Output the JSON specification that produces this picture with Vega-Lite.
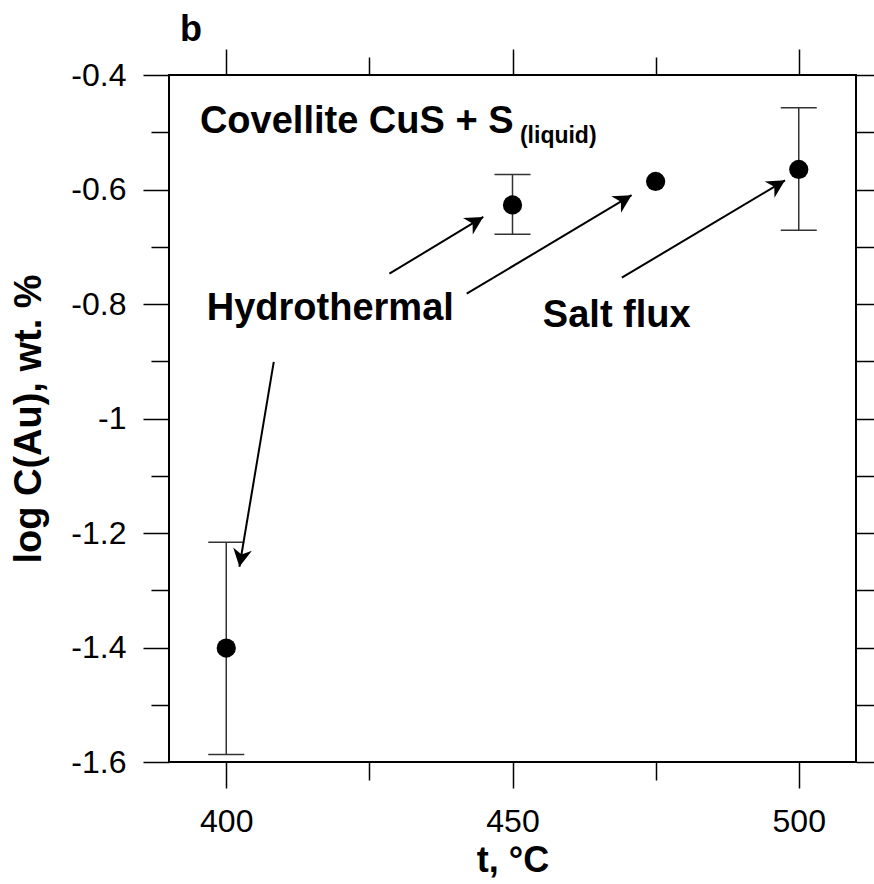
{
  "$schema": "https://vega.github.io/schema/vega-lite/v6.json",
  "width": 687,
  "height": 687,
  "autosize": {"type": "none"},
  "padding": {"left": 169, "top": 75, "right": 18, "bottom": 122},
  "background": "white",
  "title": {"text": "b", "anchor": "start", "frame": "group", "fontSize": 36, "fontWeight": "bold", "font": "Liberation Sans", "color": "black", "baseline": "alphabetic", "offset": -29, "dx": 11},
  "datasets": {
    "pts": [
      {"t": 400, "c": -1.401, "lo": -1.587, "hi": -1.216},
      {"t": 450, "c": -0.627, "lo": -0.678, "hi": -0.574},
      {"t": 475, "c": -0.586, "lo": null, "hi": null},
      {"t": 500, "c": -0.565, "lo": -0.671, "hi": -0.457}
    ],
    "notes": [
      {"label": "Covellite CuS + S", "x": 395.4, "y": -0.501},
      {"label": "Hydrothermal", "x": 396.6, "y": -0.828},
      {"label": "Salt flux", "x": 455.3, "y": -0.84}
    ],
    "sub": [
      {"label": "(liquid)", "x": 451.3, "y": -0.519}
    ],
    "arrows": [
      {"id": "a1", "x": 428.5, "y": -0.747, "x2": 444.9, "y2": -0.648},
      {"id": "a2", "x": 442.0, "y": -0.782, "x2": 470.8, "y2": -0.61},
      {"id": "a3", "x": 469.1, "y": -0.754, "x2": 497.6, "y2": -0.584},
      {"id": "a4", "x": 408.3, "y": -0.901, "x2": 402.3, "y2": -1.259}
    ]
  },
  "resolve": {"axis": {"x": "independent", "y": "independent"}},
  "layer": [
    {
      "data": {"name": "pts"},
      "transform": [{"filter": {"field": "lo", "valid": true}}],
      "mark": {"type": "rule", "color": "#333333", "strokeWidth": 1.5},
      "encoding": {
        "x": {"field": "t", "type": "quantitative", "scale": {"domain": [390, 510], "nice": false, "zero": false},
          "axis": {"orient": "bottom", "values": [400, 450, 500], "tickSize": 26, "labelPadding": 18, "title": "t, °C", "titleFontSize": 36, "titlePadding": 6}},
        "y": {"field": "lo", "type": "quantitative", "scale": {"domain": [-1.6, -0.4], "nice": false, "zero": false},
          "axis": {"orient": "left", "values": [-1.6, -1.4, -1.2, -1, -0.8, -0.6, -0.4], "tickSize": 26, "labelPadding": 17, "format": "~g", "labelExpr": "replace(datum.label, '\u2212', '-')", "title": "log C(Au), wt. %", "titleFontSize": 38, "titlePadding": 22}},
        "y2": {"field": "hi"}
      }
    },
    {
      "data": {"name": "pts"},
      "transform": [{"filter": {"field": "lo", "valid": true}}],
      "mark": {"type": "tick", "orient": "horizontal", "color": "#333333", "size": 36, "thickness": 1.5, "opacity": 1},
      "encoding": {
        "x": {"field": "t", "type": "quantitative", "axis": {"orient": "bottom", "values": [425, 475], "tickSize": 18, "labels": false, "title": null}},
        "y": {"field": "lo", "type": "quantitative", "axis": {"orient": "left", "values": [-1.5, -1.3, -1.1, -0.9, -0.7, -0.5], "tickSize": 18, "labels": false, "title": null}}
      }
    },
    {
      "data": {"name": "pts"},
      "transform": [{"filter": {"field": "hi", "valid": true}}],
      "mark": {"type": "tick", "orient": "horizontal", "color": "#333333", "size": 36, "thickness": 1.5, "opacity": 1},
      "encoding": {
        "x": {"field": "t", "type": "quantitative", "axis": {"orient": "top", "values": [400, 450, 500], "tickSize": 26, "labels": false, "title": null}},
        "y": {"field": "hi", "type": "quantitative", "axis": {"orient": "right", "values": [-1.6, -1.4, -1.2, -1, -0.8, -0.6, -0.4], "tickSize": 26, "labels": false, "title": null}}
      }
    },
    {
      "data": {"name": "pts"},
      "mark": {"type": "circle", "color": "black", "size": 370, "opacity": 1},
      "encoding": {
        "x": {"field": "t", "type": "quantitative", "axis": {"orient": "top", "values": [425, 475], "tickSize": 18, "labels": false, "title": null}},
        "y": {"field": "c", "type": "quantitative", "axis": {"orient": "right", "values": [-1.5, -1.3, -1.1, -0.9, -0.7, -0.5], "tickSize": 18, "labels": false, "title": null}}
      }
    },
    {
      "data": {"name": "arrows"},
      "mark": {"type": "rule", "color": "black", "strokeWidth": 2},
      "encoding": {
        "x": {"field": "x", "type": "quantitative", "axis": null},
        "y": {"field": "y", "type": "quantitative", "axis": null},
        "x2": {"field": "x2"},
        "y2": {"field": "y2"}
      }
    },
    {
      "data": {"name": "arrows"},
      "transform": [{"filter": "datum.id !== 'a4'"}],
      "mark": {"type": "point", "shape": "M0,0L-0.95,1.8L0,1.25L0.95,1.8Z", "filled": true, "fill": "black", "strokeWidth": 0, "size": 400, "angle": 59, "opacity": 1},
      "encoding": {
        "x": {"field": "x2", "type": "quantitative", "axis": null},
        "y": {"field": "y2", "type": "quantitative", "axis": null}
      }
    },
    {
      "data": {"name": "arrows"},
      "transform": [{"filter": "datum.id === 'a4'"}],
      "mark": {"type": "point", "shape": "M0,0L-0.95,1.8L0,1.25L0.95,1.8Z", "filled": true, "fill": "black", "strokeWidth": 0, "size": 400, "angle": 190, "opacity": 1},
      "encoding": {
        "x": {"field": "x2", "type": "quantitative", "axis": null},
        "y": {"field": "y2", "type": "quantitative", "axis": null}
      }
    },
    {
      "data": {"name": "notes"},
      "mark": {"type": "text", "align": "left", "baseline": "alphabetic", "font": "Liberation Sans", "fontWeight": "bold", "fontSize": 38, "color": "black"},
      "encoding": {
        "x": {"field": "x", "type": "quantitative", "axis": null},
        "y": {"field": "y", "type": "quantitative", "axis": null},
        "text": {"field": "label"}
      }
    },
    {
      "data": {"name": "sub"},
      "mark": {"type": "text", "align": "left", "baseline": "alphabetic", "font": "Liberation Sans", "fontWeight": "bold", "fontSize": 23, "color": "black"},
      "encoding": {
        "x": {"field": "x", "type": "quantitative", "axis": null},
        "y": {"field": "y", "type": "quantitative", "axis": null},
        "text": {"field": "label"}
      }
    }
  ],
  "config": {
    "view": {"stroke": "black", "strokeWidth": 2},
    "axis": {
      "domain": false,
      "grid": false,
      "tickColor": "black",
      "tickWidth": 1.5,
      "labelFont": "Liberation Sans",
      "labelFontSize": 32,
      "labelColor": "black",
      "titleFont": "Liberation Sans",
      "titleFontWeight": "bold",
      "titleColor": "black"
    }
  }
}
